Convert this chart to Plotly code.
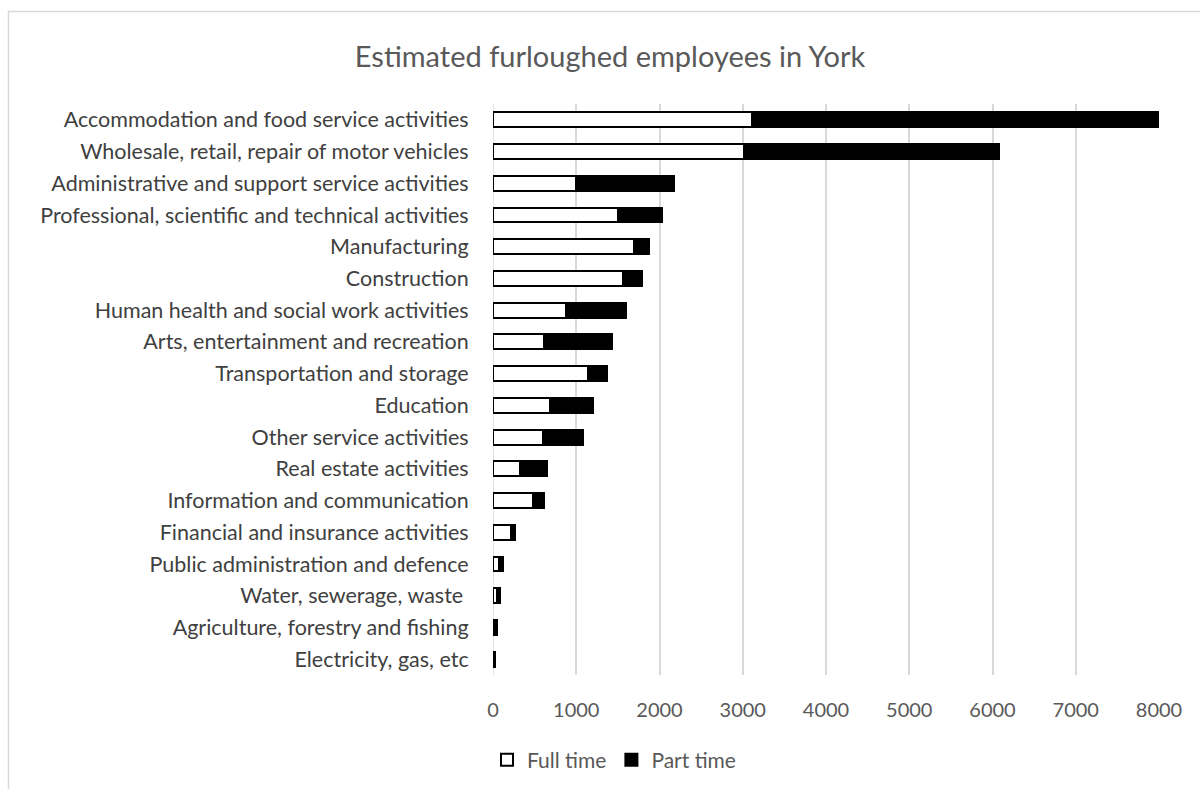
import plotly.graph_objects as go

# Industry sectors, listed top to bottom as drawn
sectors = [
    "Accommodation and food service activities",
    "Wholesale, retail, repair of motor vehicles",
    "Administrative and support service activities",
    "Professional, scientific and technical activities",
    "Manufacturing",
    "Construction",
    "Human health and social work activities",
    "Arts, entertainment and recreation",
    "Transportation and storage",
    "Education",
    "Other service activities",
    "Real estate activities",
    "Information and communication",
    "Financial and insurance activities",
    "Public administration and defence",
    "Water, sewerage, waste ",
    "Agriculture, forestry and fishing",
    "Electricity, gas, etc",
]

full_time = [3110, 3020, 1000, 1500, 1690, 1560, 880, 610, 1140, 680, 600, 320, 475, 215, 70, 50, 20, 10]
part_time = [4900, 3060, 1180, 530, 180, 230, 720, 820, 230, 520, 480, 330, 135, 55, 50, 40, 30, 10]

x_ticks = [0, 1000, 2000, 3000, 4000, 5000, 6000, 7000, 8000]

FONT = "Lato, 'Noto Sans', sans-serif"
TEXT = "#595959"

fig = go.Figure()
fig.add_trace(go.Bar(
    y=sectors, x=full_time, orientation="h", name="Full time",
    marker=dict(color="white", line=dict(color="black", width=2)),
))
fig.add_trace(go.Bar(
    y=sectors, x=part_time, orientation="h", name="Part time",
    marker=dict(color="black", line=dict(color="black", width=2)),
))

# plot area spans x 493..1159, y 104..675 in pixels
W, H = 1200, 789
L, R, T, B = 493, 41, 104, 114
pw, ph = W - L - R, H - T - B


def px_x(p):
    return (p - L) / pw


def px_y(p):
    return (H - B - p) / ph


# light grey chart-area frame
fig.add_shape(
    type="rect", xref="paper", yref="paper",
    x0=px_x(8.5), x1=px_x(1210), y0=px_y(800), y1=px_y(11.5),
    line=dict(color="#d9d9d9", width=1.5), fillcolor="rgba(0,0,0,0)", layer="below",
)

fig.update_layout(
    width=W, height=H,
    barmode="stack", bargap=0.53,
    margin=dict(l=L, r=R, t=T, b=B, pad=0),
    paper_bgcolor="white", plot_bgcolor="white",
    font=dict(family=FONT, color=TEXT, size=18),
    title=dict(
        text="Estimated furloughed employees in York",
        x=610 / W, xanchor="center", xref="container", y=1 - 57 / H, yanchor="middle",
        font=dict(size=29, color=TEXT, family=FONT),
    ),
    xaxis=dict(
        range=[0, 8000], tickvals=x_ticks, ticktext=[str(v) for v in x_ticks],
        showgrid=True, gridcolor="#d9d9d9", gridwidth=1.5,
        zeroline=False, showline=False, ticks="outside", ticklen=17, tickcolor="white",
        tickfont=dict(size=20, color=TEXT), automargin=False,
    ),
    yaxis=dict(
        categoryorder="array", categoryarray=sectors[::-1],
        showgrid=False, zeroline=False, showline=False,
        ticks="outside", ticklen=19, tickcolor="white",
        tickfont=dict(size=21.5, color="#404040"), automargin=False,
    ),
    showlegend=True,
    legend=dict(
        orientation="h", x=614 / W, xanchor="center", xref="container",
        y=1 - 760 / H, yanchor="middle", yref="container",
        font=dict(size=21, color=TEXT), traceorder="normal",
        itemwidth=30,
    ),
)

fig.add_shape(
    type="line", xref="x", yref="paper", x0=0, x1=0, y0=0, y1=1,
    line=dict(color="#d9d9d9", width=1.5), layer="below",
)

fig.write_html("out.html")
